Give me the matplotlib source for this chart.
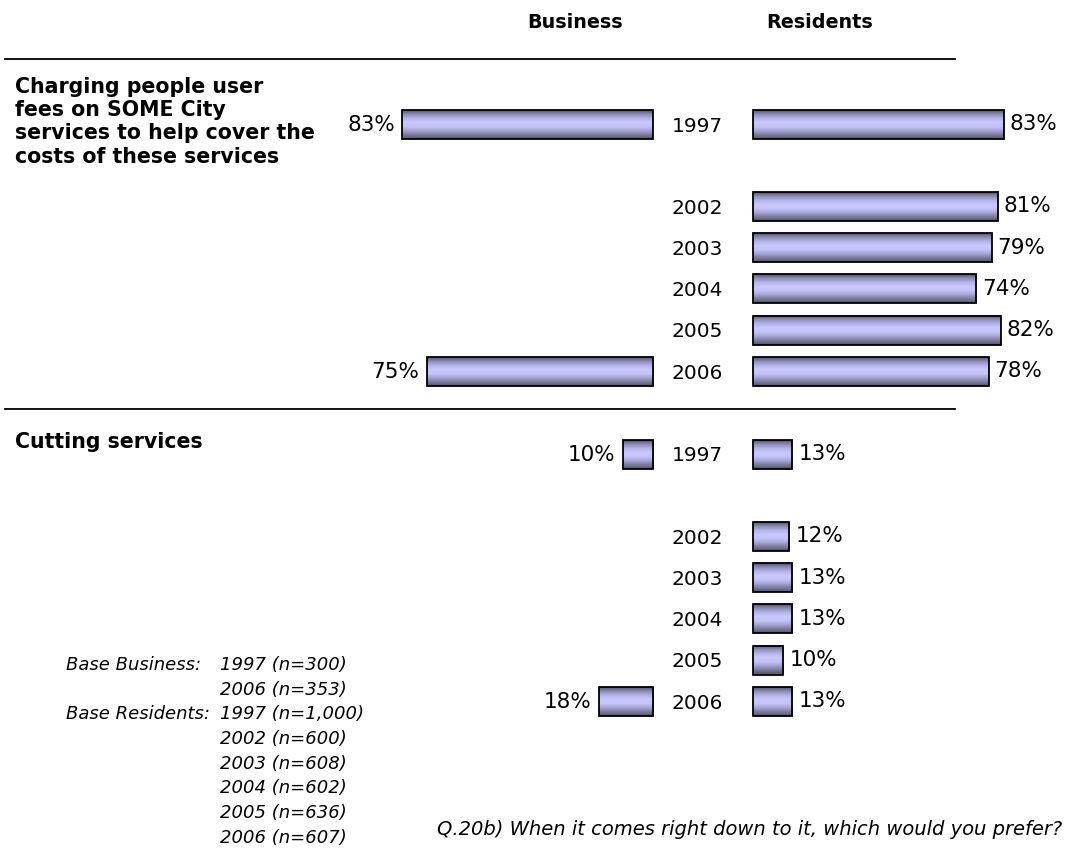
import numpy as np
import matplotlib.pyplot as plt
from matplotlib.patches import Rectangle
from matplotlib.colors import LinearSegmentedColormap

# Survey data: share preferring each option
questions = ["Charging people user\nfees on SOME City\nservices to help cover the\ncosts of these services",
             "Cutting services"]
years = ["1997", "2002", "2003", "2004", "2005", "2006"]
business = [[83, None, None, None, None, 75],
            [10, None, None, None, None, 18]]
residents = [[83, 81, 79, 74, 82, 78],
             [13, 12, 13, 13, 10, 13]]
base_business = ["1997 (n=300)", "2006 (n=353)"]
base_residents = ["1997 (n=1,000)", "2002 (n=600)", "2003 (n=608)",
                  "2004 (n=602)", "2005 (n=636)", "2006 (n=607)"]

W, H = 1068, 854
fig = plt.figure(figsize=(W / 100, H / 100), dpi=100)
ax = fig.add_axes([0, 0, 1, 1])
ax.set_xlim(0, W)
ax.set_ylim(H, 0)
ax.axis("off")

FONT = "DejaVu Sans"
PX = 3.02           # pixels per percentage point
BIZ_RIGHT = 653     # business bars grow leftwards from here
RES_LEFT = 753      # resident bars grow rightwards from here
YEAR_X = 697
BAR_H = 29
ROW = 41.2
slot_of_year = [0, 2, 3, 4, 5, 6]
group_top = [125, 455]
label_top = [77, 432]

cmap = LinearSegmentedColormap.from_list(
    "bar", ["#55556f", "#8e8eb8", "#b4b4e8", "#c8c8ff", "#c4c4fa",
            "#a4a4d4", "#7c7ca0", "#55556f"])
grad = np.linspace(0, 1, 64).reshape(-1, 1)


def draw_bar(x0, x1, yc):
    ax.imshow(grad, cmap=cmap, aspect="auto", interpolation="bilinear",
              extent=(x0, x1, yc + BAR_H / 2, yc - BAR_H / 2), zorder=2)
    ax.add_patch(Rectangle((x0, yc - BAR_H / 2), x1 - x0, BAR_H,
                           fill=False, ec="black", lw=1.3, zorder=3))


ax.text(575, 22, "Business", ha="center", va="center", fontsize=13.8,
        fontweight="bold", family=FONT)
ax.text(820, 22, "Residents", ha="center", va="center", fontsize=13.8,
        fontweight="bold", family=FONT)
ax.plot([5, 955], [60, 60], color="black", lw=1.3)
ax.plot([5, 955], [410, 410], color="black", lw=1.3)

for g, q in enumerate(questions):
    ax.text(15, label_top[g], q, ha="left", va="top", fontsize=14.8,
            fontweight="bold", family=FONT, linespacing=1.2)
    for i, yr in enumerate(years):
        yc = group_top[g] + slot_of_year[i] * ROW
        ax.text(YEAR_X, yc + 1, yr, ha="center", va="center",
                fontsize=14.5, family=FONT)
        b = business[g][i]
        if b is not None:
            x0 = BIZ_RIGHT - b * PX
            draw_bar(x0, BIZ_RIGHT, yc)
            ax.text(x0 - 7, yc, f"{b}%", ha="right", va="center",
                    fontsize=15.5, family=FONT)
        r = residents[g][i]
        x1 = RES_LEFT + r * PX
        draw_bar(RES_LEFT, x1, yc)
        ax.text(x1 + 6, yc - 1, f"{r}%", ha="left", va="center",
                fontsize=15.5, family=FONT)

# base sizes footnote
foot_y = 665
step = 24.7
ax.text(66, foot_y, "Base Business:", ha="left", va="center",
        fontsize=13, style="italic", family=FONT)
for k, s in enumerate(base_business):
    ax.text(220, foot_y + k * step, s, ha="left", va="center",
            fontsize=13, style="italic", family=FONT)
ry = foot_y + len(base_business) * step
ax.text(66, ry, "Base Residents:", ha="left", va="center",
        fontsize=13, style="italic", family=FONT)
for k, s in enumerate(base_residents):
    ax.text(220, ry + k * step, s, ha="left", va="center",
            fontsize=13, style="italic", family=FONT)

ax.text(1062, 830, "Q.20b) When it comes right down to it, which would you prefer?",
        ha="right", va="center", fontsize=14, style="italic", family=FONT)

fig.savefig("out.png", dpi=100)
